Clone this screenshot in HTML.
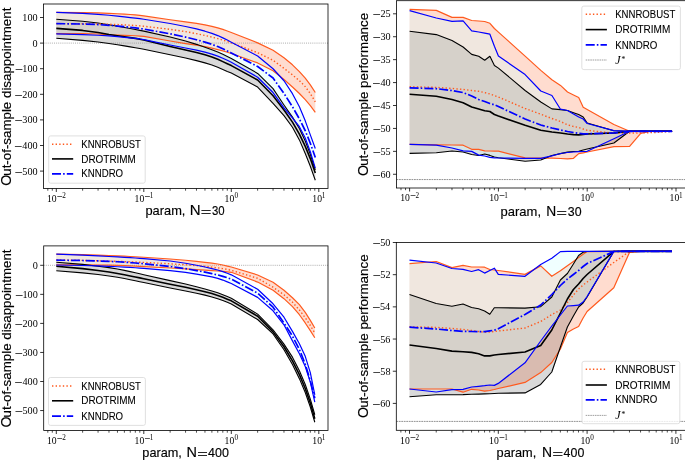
<!DOCTYPE html>
<html><head><meta charset="utf-8"><style>
html,body{margin:0;padding:0;background:#fff;width:685px;height:460px;overflow:hidden}
svg{display:block;will-change:transform} .s{font-family:"Liberation Serif",serif} .a{font-family:"Liberation Sans",sans-serif;stroke:#000;stroke-width:0.15px} .b{font-family:"Liberation Sans",sans-serif;stroke:#000;stroke-width:0.08px}
</style></head><body>
<svg width="685" height="460" viewBox="0 0 685 460">
<rect width="685" height="460" fill="#fff"/>
<g id="TL">
<clipPath id="cTL"><rect x="43.5" y="4.0" width="284.5" height="184.5"/></clipPath>
<g clip-path="url(#cTL)">
<polygon points="56.3,12.4 82.64,12.64 98.05,12.94 108.98,13.33 117.46,13.74 124.39,14.14 130.25,14.52 135.32,14.93 139.8,15.4 143.8,15.88 170.14,19.72 185.55,21.81 196.48,23.41 204.96,24.88 211.89,26.32 217.75,27.87 222.82,29.44 227.3,30.97 231.3,32.44 257.64,42.85 273.05,50.33 283.98,57.81 292.46,64.82 299.39,71.59 305.25,78.15 310.32,84.93 315.3,92.5 315.3,112.3 310.32,105.69 305.25,99.6 299.39,93.47 292.46,86.95 283.98,79.52 273.05,70.71 257.64,62.92 231.3,53.5 227.3,52.25 222.82,50.93 217.75,49.55 211.89,48.12 204.96,46.68 196.48,45.21 185.55,43.56 170.14,41.03 143.8,36.46 139.8,36.08 135.32,35.77 130.25,35.51 124.39,35.34 117.46,35.2 108.98,34.95 98.05,34.01 82.64,33.65 56.3,33.6" fill="#ff4500" fill-opacity="0.19" stroke="none"/>
<polygon points="56.3,19.31 82.64,21.31 98.05,23.04 108.98,24.71 117.46,26.19 124.39,27.46 130.25,28.55 135.32,29.5 139.8,30.36 143.8,31.15 170.14,37.03 185.55,41.09 196.48,44.35 204.96,47.18 211.89,49.72 217.75,52.11 222.82,54.37 227.3,56.49 231.3,58.49 257.64,73.41 273.05,88.59 283.98,104.97 292.46,117.1 299.39,128.47 305.25,140.98 310.32,154.24 315.3,170 315.3,180.2 310.32,166.23 305.25,153.49 299.39,139.9 292.46,127.28 283.98,115.67 273.05,103.38 257.64,87.05 231.3,73.11 227.3,71.47 222.82,69.51 217.75,67.31 211.89,65.03 204.96,62.89 196.48,60.62 185.55,58.06 170.14,54.73 143.8,49.28 139.8,48.53 135.32,47.72 130.25,46.84 124.39,45.87 117.46,44.76 108.98,43.47 98.05,42 82.64,40.33 56.3,38.22" fill="#000000" fill-opacity="0.15" stroke="none"/>
<polygon points="56.3,12.4 82.64,13.38 98.05,14.3 108.98,15.23 117.46,16.09 124.39,16.86 130.25,17.53 135.32,18.14 139.8,18.72 143.8,19.27 170.14,23.53 185.55,26.49 196.48,28.95 204.96,31.2 211.89,33.32 217.75,35.57 222.82,37.86 227.3,40.08 231.3,42.17 257.64,55.99 273.05,68.73 283.98,80.73 292.46,93.7 299.39,106.67 305.25,120.85 310.32,134.92 315.3,148.5 315.3,168.2 310.32,151.7 305.25,138.01 299.39,126.73 292.46,117.77 283.98,107.97 273.05,92.54 257.64,77.25 231.3,62.2 227.3,60.25 222.82,58.21 217.75,56.14 211.89,54.08 204.96,52.11 196.48,50.13 185.55,47.97 170.14,45.03 143.8,39.57 139.8,38.97 135.32,38.44 130.25,37.92 124.39,37.34 117.46,36.58 108.98,35.83 98.05,35.25 82.64,34.63 56.3,33.81" fill="#d2ffff" fill-opacity="0.33" stroke="none"/>
<line x1="43.5" y1="43.1" x2="328.0" y2="43.1" stroke="#8a8a8a" stroke-width="0.7" stroke-dasharray="1,1.1"/>
<polyline points="56.3,12.4 82.64,12.64 98.05,12.94 108.98,13.33 117.46,13.74 124.39,14.14 130.25,14.52 135.32,14.93 139.8,15.4 143.8,15.88 170.14,19.72 185.55,21.81 196.48,23.41 204.96,24.88 211.89,26.32 217.75,27.87 222.82,29.44 227.3,30.97 231.3,32.44 257.64,42.85 273.05,50.33 283.98,57.81 292.46,64.82 299.39,71.59 305.25,78.15 310.32,84.93 315.3,92.5" fill="none" stroke="#ff5a1e" stroke-width="1.2" stroke-linejoin="round"/>
<polyline points="56.3,33.6 82.64,33.65 98.05,34.01 108.98,34.95 117.46,35.2 124.39,35.34 130.25,35.51 135.32,35.77 139.8,36.08 143.8,36.46 170.14,41.03 185.55,43.56 196.48,45.21 204.96,46.68 211.89,48.12 217.75,49.55 222.82,50.93 227.3,52.25 231.3,53.5 257.64,62.92 273.05,70.71 283.98,79.52 292.46,86.95 299.39,93.47 305.25,99.6 310.32,105.69 315.3,112.3" fill="none" stroke="#ff5a1e" stroke-width="1.2" stroke-linejoin="round"/>
<polyline points="56.3,19.31 82.64,21.31 98.05,23.04 108.98,24.71 117.46,26.19 124.39,27.46 130.25,28.55 135.32,29.5 139.8,30.36 143.8,31.15 170.14,37.03 185.55,41.09 196.48,44.35 204.96,47.18 211.89,49.72 217.75,52.11 222.82,54.37 227.3,56.49 231.3,58.49 257.64,73.41 273.05,88.59 283.98,104.97 292.46,117.1 299.39,128.47 305.25,140.98 310.32,154.24 315.3,170" fill="none" stroke="#000" stroke-width="1.1" stroke-linejoin="round"/>
<polyline points="56.3,38.22 82.64,40.33 98.05,42 108.98,43.47 117.46,44.76 124.39,45.87 130.25,46.84 135.32,47.72 139.8,48.53 143.8,49.28 170.14,54.73 185.55,58.06 196.48,60.62 204.96,62.89 211.89,65.03 217.75,67.31 222.82,69.51 227.3,71.47 231.3,73.11 257.64,87.05 273.05,103.38 283.98,115.67 292.46,127.28 299.39,139.9 305.25,153.49 310.32,166.23 315.3,180.2" fill="none" stroke="#000" stroke-width="1.1" stroke-linejoin="round"/>
<polyline points="56.3,23.6 82.64,23.72 98.05,23.89 108.98,24.21 117.46,24.57 124.39,24.9 130.25,25.21 135.32,25.53 139.8,25.88 143.8,26.24 170.14,29.32 185.55,31.65 196.48,33.67 204.96,35.45 211.89,37.05 217.75,38.6 222.82,40.1 227.3,41.52 231.3,42.85 257.64,52.7 273.05,60.31 283.98,68.3 292.46,74.92 299.39,80.66 305.25,86.63 310.32,93.59 315.3,101.8" fill="none" stroke="#ff5a1e" stroke-width="1.4" stroke-dasharray="1.4,2.2" stroke-linejoin="round"/>
<polyline points="56.3,28.41 82.64,30.42 98.05,32.42 108.98,34.43 117.46,35.7 124.39,36.71 130.25,37.59 135.32,38.38 139.8,39.16 143.8,39.97 170.14,46.53 185.55,50.01 196.48,52.52 204.96,54.76 211.89,56.95 217.75,59.31 222.82,61.64 227.3,63.75 231.3,65.58 257.64,80.04 273.05,95.69 283.98,109.98 292.46,122.14 299.39,134.04 305.25,146.35 310.32,158.59 315.3,173" fill="none" stroke="#000" stroke-width="1.6" stroke-linejoin="round"/>
<polyline points="56.3,23.6 82.64,24.02 98.05,24.55 108.98,25.28 117.46,26.03 124.39,26.71 130.25,27.33 135.32,27.92 139.8,28.52 143.8,29.1 170.14,33.83 185.55,37.06 196.48,39.74 204.96,42.13 211.89,44.34 217.75,46.58 222.82,48.81 227.3,50.93 231.3,52.93 257.64,66.46 273.05,77.96 283.98,93.45 292.46,106.73 299.39,118.92 305.25,130.75 310.32,143.23 315.3,157.5" fill="none" stroke="#0000ff" stroke-width="1.7" stroke-dasharray="9,2.1,1.6,2.1" stroke-linejoin="round"/>
<polyline points="56.3,12.4 82.64,13.38 98.05,14.3 108.98,15.23 117.46,16.09 124.39,16.86 130.25,17.53 135.32,18.14 139.8,18.72 143.8,19.27 170.14,23.53 185.55,26.49 196.48,28.95 204.96,31.2 211.89,33.32 217.75,35.57 222.82,37.86 227.3,40.08 231.3,42.17 257.64,55.99 273.05,68.73 283.98,80.73 292.46,93.7 299.39,106.67 305.25,120.85 310.32,134.92 315.3,148.5" fill="none" stroke="#0000ff" stroke-width="1.2" stroke-linejoin="round"/>
<polyline points="56.3,33.81 82.64,34.63 98.05,35.25 108.98,35.83 117.46,36.58 124.39,37.34 130.25,37.92 135.32,38.44 139.8,38.97 143.8,39.57 170.14,45.03 185.55,47.97 196.48,50.13 204.96,52.11 211.89,54.08 217.75,56.14 222.82,58.21 227.3,60.25 231.3,62.2 257.64,77.25 273.05,92.54 283.98,107.97 292.46,117.77 299.39,126.73 305.25,138.01 310.32,151.7 315.3,168.2" fill="none" stroke="#0000ff" stroke-width="1.2" stroke-linejoin="round"/>
</g>
<rect x="43.5" y="4.0" width="284.5" height="184.5" fill="none" stroke="#000" stroke-width="0.8"/>
<line x1="40" y1="17.5" x2="43.5" y2="17.5" stroke="#000" stroke-width="0.8"/>
<text x="22.3" y="21" class="s" font-size="10.2">100</text>
<line x1="40" y1="43.1" x2="43.5" y2="43.1" stroke="#000" stroke-width="0.8"/>
<text x="32.5" y="46.6" class="s" font-size="10.2">0</text>
<line x1="40" y1="68.7" x2="43.5" y2="68.7" stroke="#000" stroke-width="0.8"/>
<text x="22.3" y="72.2" class="s" font-size="10.2">100</text>
<rect x="15.6" y="69" width="6.8" height="0.9" fill="#333"/>
<line x1="40" y1="94.3" x2="43.5" y2="94.3" stroke="#000" stroke-width="0.8"/>
<text x="22.3" y="97.8" class="s" font-size="10.2">200</text>
<rect x="15.15" y="95" width="6.8" height="0.9" fill="#333"/>
<line x1="40" y1="119.9" x2="43.5" y2="119.9" stroke="#000" stroke-width="0.8"/>
<text x="22.3" y="123.4" class="s" font-size="10.2">300</text>
<rect x="15.19" y="120" width="6.8" height="0.9" fill="#333"/>
<line x1="40" y1="145.5" x2="43.5" y2="145.5" stroke="#000" stroke-width="0.8"/>
<text x="22.3" y="149" class="s" font-size="10.2">400</text>
<rect x="14.9" y="146" width="6.8" height="0.9" fill="#333"/>
<line x1="40" y1="171.1" x2="43.5" y2="171.1" stroke="#000" stroke-width="0.8"/>
<text x="22.3" y="174.6" class="s" font-size="10.2">500</text>
<rect x="15.29" y="172" width="6.8" height="0.9" fill="#333"/>
<line x1="47.82" y1="188.5" x2="47.82" y2="190.7" stroke="#000" stroke-width="0.7"/>
<line x1="52.3" y1="188.5" x2="52.3" y2="190.7" stroke="#000" stroke-width="0.7"/>
<line x1="56.3" y1="188.5" x2="56.3" y2="192" stroke="#000" stroke-width="0.8"/>
<text transform="translate(46.88,201.9) scale(0.95,1)" class="s" font-size="10.2">10</text>
<rect x="57.29" y="196" width="4.9" height="0.8" fill="#333"/>
<text x="62.27" y="198.3" class="s" font-size="7.2">2</text>
<line x1="82.64" y1="188.5" x2="82.64" y2="190.7" stroke="#000" stroke-width="0.7"/>
<line x1="98.05" y1="188.5" x2="98.05" y2="190.7" stroke="#000" stroke-width="0.7"/>
<line x1="108.98" y1="188.5" x2="108.98" y2="190.7" stroke="#000" stroke-width="0.7"/>
<line x1="117.46" y1="188.5" x2="117.46" y2="190.7" stroke="#000" stroke-width="0.7"/>
<line x1="124.39" y1="188.5" x2="124.39" y2="190.7" stroke="#000" stroke-width="0.7"/>
<line x1="130.25" y1="188.5" x2="130.25" y2="190.7" stroke="#000" stroke-width="0.7"/>
<line x1="135.32" y1="188.5" x2="135.32" y2="190.7" stroke="#000" stroke-width="0.7"/>
<line x1="139.8" y1="188.5" x2="139.8" y2="190.7" stroke="#000" stroke-width="0.7"/>
<line x1="143.8" y1="188.5" x2="143.8" y2="192" stroke="#000" stroke-width="0.8"/>
<text transform="translate(134.55,201.9) scale(0.95,1)" class="s" font-size="10.2">10</text>
<rect x="144.97" y="196" width="4.9" height="0.8" fill="#333"/>
<text x="149.63" y="198.3" class="s" font-size="7.2">1</text>
<line x1="170.14" y1="188.5" x2="170.14" y2="190.7" stroke="#000" stroke-width="0.7"/>
<line x1="185.55" y1="188.5" x2="185.55" y2="190.7" stroke="#000" stroke-width="0.7"/>
<line x1="196.48" y1="188.5" x2="196.48" y2="190.7" stroke="#000" stroke-width="0.7"/>
<line x1="204.96" y1="188.5" x2="204.96" y2="190.7" stroke="#000" stroke-width="0.7"/>
<line x1="211.89" y1="188.5" x2="211.89" y2="190.7" stroke="#000" stroke-width="0.7"/>
<line x1="217.75" y1="188.5" x2="217.75" y2="190.7" stroke="#000" stroke-width="0.7"/>
<line x1="222.82" y1="188.5" x2="222.82" y2="190.7" stroke="#000" stroke-width="0.7"/>
<line x1="227.3" y1="188.5" x2="227.3" y2="190.7" stroke="#000" stroke-width="0.7"/>
<line x1="231.3" y1="188.5" x2="231.3" y2="192" stroke="#000" stroke-width="0.8"/>
<text transform="translate(224.59,201.9) scale(0.95,1)" class="s" font-size="10.2">10</text>
<text x="234.43" y="198.3" class="s" font-size="7.2">0</text>
<line x1="257.64" y1="188.5" x2="257.64" y2="190.7" stroke="#000" stroke-width="0.7"/>
<line x1="273.05" y1="188.5" x2="273.05" y2="190.7" stroke="#000" stroke-width="0.7"/>
<line x1="283.98" y1="188.5" x2="283.98" y2="190.7" stroke="#000" stroke-width="0.7"/>
<line x1="292.46" y1="188.5" x2="292.46" y2="190.7" stroke="#000" stroke-width="0.7"/>
<line x1="299.39" y1="188.5" x2="299.39" y2="190.7" stroke="#000" stroke-width="0.7"/>
<line x1="305.25" y1="188.5" x2="305.25" y2="190.7" stroke="#000" stroke-width="0.7"/>
<line x1="310.32" y1="188.5" x2="310.32" y2="190.7" stroke="#000" stroke-width="0.7"/>
<line x1="314.8" y1="188.5" x2="314.8" y2="190.7" stroke="#000" stroke-width="0.7"/>
<line x1="318.8" y1="188.5" x2="318.8" y2="192" stroke="#000" stroke-width="0.8"/>
<text transform="translate(312.35,201.9) scale(0.95,1)" class="s" font-size="10.2">10</text>
<text x="321.83" y="198.3" class="s" font-size="7.2">1</text>
<text transform="translate(145.46,215.3) scale(1.0360,1)" class="a" font-size="12.4">param,</text>
<text transform="translate(189.77,215.3) scale(1.0733,1)" class="a" font-size="14.0">N</text>
<rect x="201.4" y="210" width="9.3" height="1" fill="#2a2a2a"/>
<rect x="201.4" y="213" width="9.3" height="1" fill="#2a2a2a"/>
<text transform="translate(211.97,215.3) scale(0.8572,1)" class="a" font-size="13.3">30</text>
<text transform="translate(10.5,185.87) rotate(-90)" class="a" font-size="14.2">O</text>
<text transform="translate(10.5,175.77) rotate(-90) scale(1.0337,1)" class="a" font-size="12.9">ut-of-sample disappointment</text>
<rect x="48.7" y="135.9" width="96.5" height="47.3" rx="2" fill="#fff" fill-opacity="0.8" stroke="#d8d8d8" stroke-width="0.8"/>
<line x1="52" y1="144.2" x2="73.2" y2="144.2" stroke="#ff5a1e" stroke-width="1.4" stroke-dasharray="1.4,2.2"/>
<text transform="translate(81.32,147.8) scale(0.9305,1)" class="b" font-size="10.2">KNNROBUST</text>
<line x1="52" y1="158.9" x2="73.2" y2="158.9" stroke="#000" stroke-width="1.6"/>
<text transform="translate(81.29,162.5) scale(0.9740,1)" class="b" font-size="10.2">DROTRIMM</text>
<line x1="52" y1="173.8" x2="73.2" y2="173.8" stroke="#0000ff" stroke-width="1.7" stroke-dasharray="9,2.1,1.6,2.1"/>
<text transform="translate(81.31,177.4) scale(0.9468,1)" class="b" font-size="10.2">KNNDRO</text>
</g>
<g id="BL">
<clipPath id="cBL"><rect x="43.7" y="245.9" width="284.3" height="184.6"/></clipPath>
<g clip-path="url(#cBL)">
<polygon points="56.3,254.2 82.64,254.72 98.05,255.17 108.98,255.54 117.46,255.88 124.39,256.2 130.25,256.49 135.32,256.76 139.8,257.02 143.8,257.26 170.14,259.02 185.55,260.27 196.48,261.33 204.96,262.29 211.89,263.17 217.75,264.03 222.82,265.03 227.3,266.05 231.3,267.01 257.64,274.96 273.05,282.23 283.98,290.22 292.46,297.73 299.39,304.69 305.25,312.4 310.32,320.43 314.8,328 314.8,337.8 310.32,330.66 305.25,322.97 299.39,314.73 292.46,306.68 283.98,298.65 273.05,290.31 257.64,282.09 231.3,272.29 227.3,271.78 222.82,271.37 217.75,271 211.89,270.57 204.96,270.09 196.48,269.54 185.55,268.88 170.14,268.02 143.8,266.63 139.8,266.41 135.32,266.17 130.25,265.91 124.39,265.65 117.46,265.38 108.98,265.16 98.05,265.03 82.64,264.9 56.3,264.8" fill="#ff4500" fill-opacity="0.19" stroke="none"/>
<polygon points="56.3,262.31 82.64,264.41 98.05,266.2 108.98,267.66 117.46,269.07 124.39,270.4 130.25,271.63 135.32,272.74 139.8,273.76 143.8,274.68 170.14,280.64 185.55,284.08 196.48,286.71 204.96,288.95 211.89,290.94 217.75,292.82 222.82,294.75 227.3,296.59 231.3,298.22 257.64,314.12 273.05,329.78 283.98,344.11 292.46,357.17 299.39,370.68 305.25,384.47 310.32,399.08 314.8,414.74 314.8,422.22 310.32,406.97 305.25,392.54 299.39,378.64 292.46,364.53 283.98,349.7 273.05,333.97 257.64,319.52 231.3,303.92 227.3,302.3 222.82,300.51 217.75,298.66 211.89,296.93 204.96,295.14 196.48,293.19 185.55,290.93 170.14,287.99 143.8,282.57 139.8,281.71 135.32,280.76 130.25,279.7 124.39,278.54 117.46,277.28 108.98,275.93 98.05,274.55 82.64,272.83 56.3,270.81" fill="#000000" fill-opacity="0.15" stroke="none"/>
<polygon points="56.3,254.21 82.64,255.22 98.05,255.95 108.98,256.51 117.46,256.95 124.39,257.33 130.25,257.67 135.32,257.98 139.8,258.28 143.8,258.56 170.14,261.01 185.55,263.26 196.48,265.25 204.96,267 211.89,268.56 217.75,270.02 222.82,271.6 227.3,273.23 231.3,274.83 257.64,289.31 273.05,303.79 283.98,317.24 292.46,331.4 299.39,343.78 305.25,356.35 310.32,372.61 314.8,394.8 314.8,402.08 310.32,382.07 305.25,366.5 299.39,353.74 292.46,340.88 283.98,324.78 273.05,310.8 257.64,297.39 231.3,283.55 227.3,281.87 222.82,280.06 217.75,278.32 211.89,276.92 204.96,275.54 196.48,274.06 185.55,272.46 170.14,270.66 143.8,268.37 139.8,268.08 135.32,267.77 130.25,267.44 124.39,267.09 117.46,266.73 108.98,266.35 98.05,265.96 82.64,265.48 56.3,265" fill="#d2ffff" fill-opacity="0.33" stroke="none"/>
<line x1="43.7" y1="265.3" x2="328.0" y2="265.3" stroke="#8a8a8a" stroke-width="0.7" stroke-dasharray="1,1.1"/>
<polyline points="56.3,254.2 82.64,254.72 98.05,255.17 108.98,255.54 117.46,255.88 124.39,256.2 130.25,256.49 135.32,256.76 139.8,257.02 143.8,257.26 170.14,259.02 185.55,260.27 196.48,261.33 204.96,262.29 211.89,263.17 217.75,264.03 222.82,265.03 227.3,266.05 231.3,267.01 257.64,274.96 273.05,282.23 283.98,290.22 292.46,297.73 299.39,304.69 305.25,312.4 310.32,320.43 314.8,328" fill="none" stroke="#ff5a1e" stroke-width="1.2" stroke-linejoin="round"/>
<polyline points="56.3,264.8 82.64,264.9 98.05,265.03 108.98,265.16 117.46,265.38 124.39,265.65 130.25,265.91 135.32,266.17 139.8,266.41 143.8,266.63 170.14,268.02 185.55,268.88 196.48,269.54 204.96,270.09 211.89,270.57 217.75,271 222.82,271.37 227.3,271.78 231.3,272.29 257.64,282.09 273.05,290.31 283.98,298.65 292.46,306.68 299.39,314.73 305.25,322.97 310.32,330.66 314.8,337.8" fill="none" stroke="#ff5a1e" stroke-width="1.2" stroke-linejoin="round"/>
<polyline points="56.3,262.31 82.64,264.41 98.05,266.2 108.98,267.66 117.46,269.07 124.39,270.4 130.25,271.63 135.32,272.74 139.8,273.76 143.8,274.68 170.14,280.64 185.55,284.08 196.48,286.71 204.96,288.95 211.89,290.94 217.75,292.82 222.82,294.75 227.3,296.59 231.3,298.22 257.64,314.12 273.05,329.78 283.98,344.11 292.46,357.17 299.39,370.68 305.25,384.47 310.32,399.08 314.8,414.74" fill="none" stroke="#000" stroke-width="1.1" stroke-linejoin="round"/>
<polyline points="56.3,270.81 82.64,272.83 98.05,274.55 108.98,275.93 117.46,277.28 124.39,278.54 130.25,279.7 135.32,280.76 139.8,281.71 143.8,282.57 170.14,287.99 185.55,290.93 196.48,293.19 204.96,295.14 211.89,296.93 217.75,298.66 222.82,300.51 227.3,302.3 231.3,303.92 257.64,319.52 273.05,333.97 283.98,349.7 292.46,364.53 299.39,378.64 305.25,392.54 310.32,406.97 314.8,422.22" fill="none" stroke="#000" stroke-width="1.1" stroke-linejoin="round"/>
<polyline points="56.3,259.9 82.64,260.41 98.05,260.81 108.98,261.12 117.46,261.39 124.39,261.63 130.25,261.84 135.32,262.05 139.8,262.23 143.8,262.41 170.14,263.77 185.55,264.78 196.48,265.65 204.96,266.43 211.89,267.15 217.75,267.84 222.82,268.63 227.3,269.45 231.3,270.28 257.64,278.28 273.05,287.21 283.98,294.8 292.46,302.15 299.39,309.98 305.25,317.75 310.32,325.47 314.8,333" fill="none" stroke="#ff5a1e" stroke-width="1.4" stroke-dasharray="1.4,2.2" stroke-linejoin="round"/>
<polyline points="56.3,266.22 82.64,268.66 98.05,270.56 108.98,272.08 117.46,273.47 124.39,274.75 130.25,275.91 135.32,276.95 139.8,277.9 143.8,278.75 170.14,284.25 185.55,287.32 196.48,289.68 204.96,291.73 211.89,293.59 217.75,295.39 222.82,297.32 227.3,299.18 231.3,300.82 257.64,316.24 273.05,331.86 283.98,346.77 292.46,360.87 299.39,374.66 305.25,388.49 310.32,403.08 314.8,418.74" fill="none" stroke="#000" stroke-width="1.6" stroke-linejoin="round"/>
<polyline points="56.3,260.1 82.64,260.5 98.05,260.97 108.98,261.35 117.46,261.77 124.39,262.19 130.25,262.61 135.32,263 139.8,263.38 143.8,263.73 170.14,266.46 185.55,268.66 196.48,270.54 204.96,272.17 211.89,273.62 217.75,274.95 222.82,276.33 227.3,277.75 231.3,279.18 257.64,293.1 273.05,307.21 283.98,322.94 292.46,336.05 299.39,349.44 305.25,364.19 310.32,380.86 314.8,398.22" fill="none" stroke="#0000ff" stroke-width="1.7" stroke-dasharray="9,2.1,1.6,2.1" stroke-linejoin="round"/>
<polyline points="56.3,254.21 82.64,255.22 98.05,255.95 108.98,256.51 117.46,256.95 124.39,257.33 130.25,257.67 135.32,257.98 139.8,258.28 143.8,258.56 170.14,261.01 185.55,263.26 196.48,265.25 204.96,267 211.89,268.56 217.75,270.02 222.82,271.6 227.3,273.23 231.3,274.83 257.64,289.31 273.05,303.79 283.98,317.24 292.46,331.4 299.39,343.78 305.25,356.35 310.32,372.61 314.8,394.8" fill="none" stroke="#0000ff" stroke-width="1.2" stroke-linejoin="round"/>
<polyline points="56.3,265 82.64,265.48 98.05,265.96 108.98,266.35 117.46,266.73 124.39,267.09 130.25,267.44 135.32,267.77 139.8,268.08 143.8,268.37 170.14,270.66 185.55,272.46 196.48,274.06 204.96,275.54 211.89,276.92 217.75,278.32 222.82,280.06 227.3,281.87 231.3,283.55 257.64,297.39 273.05,310.8 283.98,324.78 292.46,340.88 299.39,353.74 305.25,366.5 310.32,382.07 314.8,402.08" fill="none" stroke="#0000ff" stroke-width="1.2" stroke-linejoin="round"/>
</g>
<rect x="43.7" y="245.9" width="284.3" height="184.6" fill="none" stroke="#000" stroke-width="0.8"/>
<line x1="40.2" y1="265.3" x2="43.7" y2="265.3" stroke="#000" stroke-width="0.8"/>
<text x="32.7" y="268.8" class="s" font-size="10.2">0</text>
<line x1="40.2" y1="294.35" x2="43.7" y2="294.35" stroke="#000" stroke-width="0.8"/>
<text x="22.5" y="297.85" class="s" font-size="10.2">100</text>
<rect x="15.8" y="295" width="6.8" height="0.9" fill="#333"/>
<line x1="40.2" y1="323.4" x2="43.7" y2="323.4" stroke="#000" stroke-width="0.8"/>
<text x="22.5" y="326.9" class="s" font-size="10.2">200</text>
<rect x="15.35" y="324" width="6.8" height="0.9" fill="#333"/>
<line x1="40.2" y1="352.45" x2="43.7" y2="352.45" stroke="#000" stroke-width="0.8"/>
<text x="22.5" y="355.95" class="s" font-size="10.2">300</text>
<rect x="15.39" y="353" width="6.8" height="0.9" fill="#333"/>
<line x1="40.2" y1="381.5" x2="43.7" y2="381.5" stroke="#000" stroke-width="0.8"/>
<text x="22.5" y="385" class="s" font-size="10.2">400</text>
<rect x="15.1" y="382" width="6.8" height="0.9" fill="#333"/>
<line x1="40.2" y1="410.55" x2="43.7" y2="410.55" stroke="#000" stroke-width="0.8"/>
<text x="22.5" y="414.05" class="s" font-size="10.2">500</text>
<rect x="15.49" y="411" width="6.8" height="0.9" fill="#333"/>
<line x1="47.82" y1="430.5" x2="47.82" y2="432.7" stroke="#000" stroke-width="0.7"/>
<line x1="52.3" y1="430.5" x2="52.3" y2="432.7" stroke="#000" stroke-width="0.7"/>
<line x1="56.3" y1="430.5" x2="56.3" y2="434" stroke="#000" stroke-width="0.8"/>
<text transform="translate(46.88,443.9) scale(0.95,1)" class="s" font-size="10.2">10</text>
<rect x="57.29" y="438" width="4.9" height="0.8" fill="#333"/>
<text x="62.27" y="440.3" class="s" font-size="7.2">2</text>
<line x1="82.64" y1="430.5" x2="82.64" y2="432.7" stroke="#000" stroke-width="0.7"/>
<line x1="98.05" y1="430.5" x2="98.05" y2="432.7" stroke="#000" stroke-width="0.7"/>
<line x1="108.98" y1="430.5" x2="108.98" y2="432.7" stroke="#000" stroke-width="0.7"/>
<line x1="117.46" y1="430.5" x2="117.46" y2="432.7" stroke="#000" stroke-width="0.7"/>
<line x1="124.39" y1="430.5" x2="124.39" y2="432.7" stroke="#000" stroke-width="0.7"/>
<line x1="130.25" y1="430.5" x2="130.25" y2="432.7" stroke="#000" stroke-width="0.7"/>
<line x1="135.32" y1="430.5" x2="135.32" y2="432.7" stroke="#000" stroke-width="0.7"/>
<line x1="139.8" y1="430.5" x2="139.8" y2="432.7" stroke="#000" stroke-width="0.7"/>
<line x1="143.8" y1="430.5" x2="143.8" y2="434" stroke="#000" stroke-width="0.8"/>
<text transform="translate(134.55,443.9) scale(0.95,1)" class="s" font-size="10.2">10</text>
<rect x="144.97" y="438" width="4.9" height="0.8" fill="#333"/>
<text x="149.63" y="440.3" class="s" font-size="7.2">1</text>
<line x1="170.14" y1="430.5" x2="170.14" y2="432.7" stroke="#000" stroke-width="0.7"/>
<line x1="185.55" y1="430.5" x2="185.55" y2="432.7" stroke="#000" stroke-width="0.7"/>
<line x1="196.48" y1="430.5" x2="196.48" y2="432.7" stroke="#000" stroke-width="0.7"/>
<line x1="204.96" y1="430.5" x2="204.96" y2="432.7" stroke="#000" stroke-width="0.7"/>
<line x1="211.89" y1="430.5" x2="211.89" y2="432.7" stroke="#000" stroke-width="0.7"/>
<line x1="217.75" y1="430.5" x2="217.75" y2="432.7" stroke="#000" stroke-width="0.7"/>
<line x1="222.82" y1="430.5" x2="222.82" y2="432.7" stroke="#000" stroke-width="0.7"/>
<line x1="227.3" y1="430.5" x2="227.3" y2="432.7" stroke="#000" stroke-width="0.7"/>
<line x1="231.3" y1="430.5" x2="231.3" y2="434" stroke="#000" stroke-width="0.8"/>
<text transform="translate(224.59,443.9) scale(0.95,1)" class="s" font-size="10.2">10</text>
<text x="234.43" y="440.3" class="s" font-size="7.2">0</text>
<line x1="257.64" y1="430.5" x2="257.64" y2="432.7" stroke="#000" stroke-width="0.7"/>
<line x1="273.05" y1="430.5" x2="273.05" y2="432.7" stroke="#000" stroke-width="0.7"/>
<line x1="283.98" y1="430.5" x2="283.98" y2="432.7" stroke="#000" stroke-width="0.7"/>
<line x1="292.46" y1="430.5" x2="292.46" y2="432.7" stroke="#000" stroke-width="0.7"/>
<line x1="299.39" y1="430.5" x2="299.39" y2="432.7" stroke="#000" stroke-width="0.7"/>
<line x1="305.25" y1="430.5" x2="305.25" y2="432.7" stroke="#000" stroke-width="0.7"/>
<line x1="310.32" y1="430.5" x2="310.32" y2="432.7" stroke="#000" stroke-width="0.7"/>
<line x1="314.8" y1="430.5" x2="314.8" y2="432.7" stroke="#000" stroke-width="0.7"/>
<line x1="318.8" y1="430.5" x2="318.8" y2="434" stroke="#000" stroke-width="0.8"/>
<text transform="translate(312.35,443.9) scale(0.95,1)" class="s" font-size="10.2">10</text>
<text x="321.83" y="440.3" class="s" font-size="7.2">1</text>
<text transform="translate(142.37,457.2) scale(1.0251,1)" class="a" font-size="12.4">param,</text>
<text transform="translate(186.61,457.2) scale(1.0350,1)" class="a" font-size="14.0">N</text>
<rect x="198" y="452" width="9" height="1" fill="#2a2a2a"/>
<rect x="198" y="455" width="9" height="1" fill="#2a2a2a"/>
<text transform="translate(208.11,457.2) scale(0.9410,1)" class="a" font-size="13.3">400</text>
<text transform="translate(10.5,427.57) rotate(-90)" class="a" font-size="14.2">O</text>
<text transform="translate(10.5,417.47) rotate(-90) scale(1.0325,1)" class="a" font-size="12.9">ut-of-sample disappointment</text>
<rect x="48.5" y="377.5" width="96.9" height="47.9" rx="2" fill="#fff" fill-opacity="0.8" stroke="#d8d8d8" stroke-width="0.8"/>
<line x1="52" y1="386" x2="73.2" y2="386" stroke="#ff5a1e" stroke-width="1.4" stroke-dasharray="1.4,2.2"/>
<text transform="translate(81.32,389.6) scale(0.9305,1)" class="b" font-size="10.2">KNNROBUST</text>
<line x1="52" y1="400.8" x2="73.2" y2="400.8" stroke="#000" stroke-width="1.6"/>
<text transform="translate(81.29,404.4) scale(0.9740,1)" class="b" font-size="10.2">DROTRIMM</text>
<line x1="52" y1="416.1" x2="73.2" y2="416.1" stroke="#0000ff" stroke-width="1.7" stroke-dasharray="9,2.1,1.6,2.1"/>
<text transform="translate(81.31,419.7) scale(0.9468,1)" class="b" font-size="10.2">KNNDRO</text>
</g>
<g id="TR">
<clipPath id="cTR"><rect x="396.5" y="0.7" width="293.5" height="187.3"/></clipPath>
<g clip-path="url(#cTR)">
<polygon points="409.6,9.4 436.3,10.4 452,17.4 463.1,17.4 471.7,20.5 478.7,21 484.7,21.5 489.9,23.3 494.4,28.5 498.4,32.1 525.1,56.1 540.8,70.4 551.9,79.8 560.5,85.4 567.5,92 573.5,95 578.7,97.5 583.2,107.2 587.2,109.5 613.9,124.5 629.6,131.3 640.7,131.3 649.3,131.3 656.3,131.3 662.3,131.3 667.5,131.3 672.1,131.3 672.1,131.3 667.5,131.3 662.3,131.3 656.3,131.3 649.3,131.5 640.7,133.3 629.6,146.3 613.9,146.6 587.2,152 583.2,152.8 578.7,153.6 573.5,158.3 567.5,158.9 560.5,158.5 551.9,158.1 540.8,158.1 525.1,157.8 498.4,151.1 494.4,151.1 489.9,151 484.7,150.8 478.7,149.3 471.7,149.3 463.1,145.2 452,145 436.3,144.8 409.6,144.3" fill="#ff4500" fill-opacity="0.19" stroke="none"/>
<polygon points="409.6,31.3 436.3,34.6 452,40.5 463.1,47 471.7,54.4 478.7,56.3 484.7,60.3 489.9,56.3 494.4,65.5 498.4,68.1 525.1,90.5 540.8,102 551.9,108.9 560.5,109.6 567.5,110.5 573.5,112.7 578.7,114.6 583.2,117 587.2,123 613.9,130.7 629.6,131.3 640.7,131.3 649.3,131.3 656.3,131.3 662.3,131.3 667.5,131.3 672.1,131.3 672.1,131.3 667.5,131.3 662.3,131.3 656.3,131.3 649.3,131.3 640.7,131.3 629.6,131.3 613.9,143 587.2,149 583.2,150 578.7,151.3 573.5,151.5 567.5,152.1 560.5,153.6 551.9,155.5 540.8,160 525.1,161.3 498.4,157.7 494.4,157 489.9,155.4 484.7,154 478.7,155.5 471.7,154.5 463.1,152 452,151 436.3,152.8 409.6,153.4" fill="#000000" fill-opacity="0.15" stroke="none"/>
<polygon points="409.6,10.7 436.3,18 452,21.3 463.1,20.9 471.7,30.8 478.7,32 484.7,33.2 489.9,34.2 494.4,46.3 498.4,56 525.1,74.6 540.8,91 551.9,95.5 560.5,109.2 567.5,110.5 573.5,114 578.7,117 583.2,119 587.2,123.5 613.9,130.6 629.6,131.3 640.7,131.3 649.3,131.3 656.3,131.3 662.3,131.3 667.5,131.3 672.1,131.3 672.1,131.3 667.5,131.3 662.3,131.3 656.3,131.3 649.3,131.3 640.7,131.3 629.6,131.3 613.9,138.7 587.2,151.3 583.2,151.5 578.7,151.7 573.5,152 567.5,152.5 560.5,153.5 551.9,155.8 540.8,158.4 525.1,158.4 498.4,158 494.4,157.8 489.9,157.3 484.7,156 478.7,155.1 471.7,151.4 463.1,150.8 452,148 436.3,145.2 409.6,144.3" fill="#d2ffff" fill-opacity="0.33" stroke="none"/>
<line x1="396.5" y1="179.55" x2="690" y2="179.55" stroke="#777" stroke-width="0.8" stroke-dasharray="1.8,0.7"/>
<polyline points="409.6,9.4 436.3,10.4 452,17.4 463.1,17.4 471.7,20.5 478.7,21 484.7,21.5 489.9,23.3 494.4,28.5 498.4,32.1 525.1,56.1 540.8,70.4 551.9,79.8 560.5,85.4 567.5,92 573.5,95 578.7,97.5 583.2,107.2 587.2,109.5 613.9,124.5 629.6,131.3 640.7,131.3 649.3,131.3 656.3,131.3 662.3,131.3 667.5,131.3 672.1,131.3" fill="none" stroke="#ff5a1e" stroke-width="1.2" stroke-linejoin="round"/>
<polyline points="409.6,144.3 436.3,144.8 452,145 463.1,145.2 471.7,149.3 478.7,149.3 484.7,150.8 489.9,151 494.4,151.1 498.4,151.1 525.1,157.8 540.8,158.1 551.9,158.1 560.5,158.5 567.5,158.9 573.5,158.3 578.7,153.6 583.2,152.8 587.2,152 613.9,146.6 629.6,146.3 640.7,133.3 649.3,131.5 656.3,131.3 662.3,131.3 667.5,131.3 672.1,131.3" fill="none" stroke="#ff5a1e" stroke-width="1.2" stroke-linejoin="round"/>
<polyline points="409.6,31.3 436.3,34.6 452,40.5 463.1,47 471.7,54.4 478.7,56.3 484.7,60.3 489.9,56.3 494.4,65.5 498.4,68.1 525.1,90.5 540.8,102 551.9,108.9 560.5,109.6 567.5,110.5 573.5,112.7 578.7,114.6 583.2,117 587.2,123 613.9,130.7 629.6,131.3 640.7,131.3 649.3,131.3 656.3,131.3 662.3,131.3 667.5,131.3 672.1,131.3" fill="none" stroke="#000" stroke-width="1.1" stroke-linejoin="round"/>
<polyline points="409.6,153.4 436.3,152.8 452,151 463.1,152 471.7,154.5 478.7,155.5 484.7,154 489.9,155.4 494.4,157 498.4,157.7 525.1,161.3 540.8,160 551.9,155.5 560.5,153.6 567.5,152.1 573.5,151.5 578.7,151.3 583.2,150 587.2,149 613.9,143 629.6,131.3 640.7,131.3 649.3,131.3 656.3,131.3 662.3,131.3 667.5,131.3 672.1,131.3" fill="none" stroke="#000" stroke-width="1.1" stroke-linejoin="round"/>
<polyline points="409.6,86.7 436.3,87.4 452,88.5 463.1,89.4 471.7,90.5 478.7,91.3 484.7,92.6 489.9,94 494.4,95.5 498.4,97 525.1,108.5 540.8,114.3 551.9,118.5 560.5,121.5 567.5,124.8 573.5,126.5 578.7,127.5 583.2,129 587.2,130.3 613.9,133.2 629.6,133 640.7,132.9 649.3,132.7 656.3,132.4 662.3,132 667.5,131.6 672.1,131.3" fill="none" stroke="#ff5a1e" stroke-width="1.4" stroke-dasharray="1.4,2.2" stroke-linejoin="round"/>
<polyline points="409.6,94.3 436.3,96.3 452,99.5 463.1,102.7 471.7,107 478.7,109 484.7,110.8 489.9,111.5 494.4,114.5 498.4,116 525.1,125.3 540.8,130.3 551.9,132 560.5,133 567.5,134 573.5,134.6 578.7,134.9 583.2,134.5 587.2,134 613.9,133 629.6,131.3 640.7,131.3 649.3,131.3 656.3,131.3 662.3,131.3 667.5,131.3 672.1,131.3" fill="none" stroke="#000" stroke-width="1.6" stroke-linejoin="round"/>
<polyline points="409.6,87.8 436.3,88.7 452,90.5 463.1,92.6 471.7,96 478.7,99.5 484.7,101.5 489.9,103.5 494.4,104.8 498.4,106.5 525.1,119 540.8,125 551.9,128 560.5,130 567.5,131.5 573.5,132.5 578.7,133.3 583.2,133.8 587.2,133.8 613.9,133 629.6,131.3 640.7,131.3 649.3,131.3 656.3,131.3 662.3,131.3 667.5,131.3 672.1,131.3" fill="none" stroke="#0000ff" stroke-width="1.7" stroke-dasharray="9,2.1,1.6,2.1" stroke-linejoin="round"/>
<polyline points="409.6,10.7 436.3,18 452,21.3 463.1,20.9 471.7,30.8 478.7,32 484.7,33.2 489.9,34.2 494.4,46.3 498.4,56 525.1,74.6 540.8,91 551.9,95.5 560.5,109.2 567.5,110.5 573.5,114 578.7,117 583.2,119 587.2,123.5 613.9,130.6 629.6,131.3 640.7,131.3 649.3,131.3 656.3,131.3 662.3,131.3 667.5,131.3 672.1,131.3" fill="none" stroke="#0000ff" stroke-width="1.2" stroke-linejoin="round"/>
<polyline points="409.6,144.3 436.3,145.2 452,148 463.1,150.8 471.7,151.4 478.7,155.1 484.7,156 489.9,157.3 494.4,157.8 498.4,158 525.1,158.4 540.8,158.4 551.9,155.8 560.5,153.5 567.5,152.5 573.5,152 578.7,151.7 583.2,151.5 587.2,151.3 613.9,138.7 629.6,131.3 640.7,131.3 649.3,131.3 656.3,131.3 662.3,131.3 667.5,131.3 672.1,131.3" fill="none" stroke="#0000ff" stroke-width="1.2" stroke-linejoin="round"/>
</g>
<rect x="396.5" y="0.7" width="293.5" height="187.3" fill="none" stroke="#000" stroke-width="0.8"/>
<line x1="393" y1="13.8" x2="396.5" y2="13.8" stroke="#000" stroke-width="0.8"/>
<text x="380.41" y="17.3" class="s" font-size="10.2">25</text>
<rect x="373.26" y="14" width="6.8" height="0.9" fill="#333"/>
<line x1="393" y1="36.73" x2="396.5" y2="36.73" stroke="#000" stroke-width="0.8"/>
<text x="380.4" y="40.23" class="s" font-size="10.2">30</text>
<rect x="373.29" y="37" width="6.8" height="0.9" fill="#333"/>
<line x1="393" y1="59.65" x2="396.5" y2="59.65" stroke="#000" stroke-width="0.8"/>
<text x="380.41" y="63.15" class="s" font-size="10.2">35</text>
<rect x="373.3" y="60" width="6.8" height="0.9" fill="#333"/>
<line x1="393" y1="82.58" x2="396.5" y2="82.58" stroke="#000" stroke-width="0.8"/>
<text x="380.4" y="86.08" class="s" font-size="10.2">40</text>
<rect x="373" y="83" width="6.8" height="0.9" fill="#333"/>
<line x1="393" y1="105.5" x2="396.5" y2="105.5" stroke="#000" stroke-width="0.8"/>
<text x="380.41" y="109" class="s" font-size="10.2">45</text>
<rect x="373.01" y="106" width="6.8" height="0.9" fill="#333"/>
<line x1="393" y1="128.43" x2="396.5" y2="128.43" stroke="#000" stroke-width="0.8"/>
<text x="380.4" y="131.93" class="s" font-size="10.2">50</text>
<rect x="373.39" y="129" width="6.8" height="0.9" fill="#333"/>
<line x1="393" y1="151.35" x2="396.5" y2="151.35" stroke="#000" stroke-width="0.8"/>
<text x="380.41" y="154.85" class="s" font-size="10.2">55</text>
<rect x="373.4" y="152" width="6.8" height="0.9" fill="#333"/>
<line x1="393" y1="174.28" x2="396.5" y2="174.28" stroke="#000" stroke-width="0.8"/>
<text x="380.4" y="177.78" class="s" font-size="10.2">60</text>
<rect x="373.21" y="175" width="6.8" height="0.9" fill="#333"/>
<line x1="400.99" y1="188.0" x2="400.99" y2="190.2" stroke="#000" stroke-width="0.7"/>
<line x1="405.54" y1="188.0" x2="405.54" y2="190.2" stroke="#000" stroke-width="0.7"/>
<line x1="409.6" y1="188.0" x2="409.6" y2="191.5" stroke="#000" stroke-width="0.8"/>
<text transform="translate(400.18,201.4) scale(0.95,1)" class="s" font-size="10.2">10</text>
<rect x="410.59" y="195" width="4.9" height="0.8" fill="#333"/>
<text x="415.57" y="197.8" class="s" font-size="7.2">2</text>
<line x1="436.33" y1="188.0" x2="436.33" y2="190.2" stroke="#000" stroke-width="0.7"/>
<line x1="451.97" y1="188.0" x2="451.97" y2="190.2" stroke="#000" stroke-width="0.7"/>
<line x1="463.06" y1="188.0" x2="463.06" y2="190.2" stroke="#000" stroke-width="0.7"/>
<line x1="471.67" y1="188.0" x2="471.67" y2="190.2" stroke="#000" stroke-width="0.7"/>
<line x1="478.7" y1="188.0" x2="478.7" y2="190.2" stroke="#000" stroke-width="0.7"/>
<line x1="484.64" y1="188.0" x2="484.64" y2="190.2" stroke="#000" stroke-width="0.7"/>
<line x1="489.79" y1="188.0" x2="489.79" y2="190.2" stroke="#000" stroke-width="0.7"/>
<line x1="494.34" y1="188.0" x2="494.34" y2="190.2" stroke="#000" stroke-width="0.7"/>
<line x1="498.4" y1="188.0" x2="498.4" y2="191.5" stroke="#000" stroke-width="0.8"/>
<text transform="translate(489.15,201.4) scale(0.95,1)" class="s" font-size="10.2">10</text>
<rect x="499.57" y="195" width="4.9" height="0.8" fill="#333"/>
<text x="504.23" y="197.8" class="s" font-size="7.2">1</text>
<line x1="525.13" y1="188.0" x2="525.13" y2="190.2" stroke="#000" stroke-width="0.7"/>
<line x1="540.77" y1="188.0" x2="540.77" y2="190.2" stroke="#000" stroke-width="0.7"/>
<line x1="551.86" y1="188.0" x2="551.86" y2="190.2" stroke="#000" stroke-width="0.7"/>
<line x1="560.47" y1="188.0" x2="560.47" y2="190.2" stroke="#000" stroke-width="0.7"/>
<line x1="567.5" y1="188.0" x2="567.5" y2="190.2" stroke="#000" stroke-width="0.7"/>
<line x1="573.44" y1="188.0" x2="573.44" y2="190.2" stroke="#000" stroke-width="0.7"/>
<line x1="578.59" y1="188.0" x2="578.59" y2="190.2" stroke="#000" stroke-width="0.7"/>
<line x1="583.14" y1="188.0" x2="583.14" y2="190.2" stroke="#000" stroke-width="0.7"/>
<line x1="587.2" y1="188.0" x2="587.2" y2="191.5" stroke="#000" stroke-width="0.8"/>
<text transform="translate(580.49,201.4) scale(0.95,1)" class="s" font-size="10.2">10</text>
<text x="590.33" y="197.8" class="s" font-size="7.2">0</text>
<line x1="613.93" y1="188.0" x2="613.93" y2="190.2" stroke="#000" stroke-width="0.7"/>
<line x1="629.57" y1="188.0" x2="629.57" y2="190.2" stroke="#000" stroke-width="0.7"/>
<line x1="640.66" y1="188.0" x2="640.66" y2="190.2" stroke="#000" stroke-width="0.7"/>
<line x1="649.27" y1="188.0" x2="649.27" y2="190.2" stroke="#000" stroke-width="0.7"/>
<line x1="656.3" y1="188.0" x2="656.3" y2="190.2" stroke="#000" stroke-width="0.7"/>
<line x1="662.24" y1="188.0" x2="662.24" y2="190.2" stroke="#000" stroke-width="0.7"/>
<line x1="667.39" y1="188.0" x2="667.39" y2="190.2" stroke="#000" stroke-width="0.7"/>
<line x1="671.94" y1="188.0" x2="671.94" y2="190.2" stroke="#000" stroke-width="0.7"/>
<line x1="676" y1="188.0" x2="676" y2="191.5" stroke="#000" stroke-width="0.8"/>
<text transform="translate(669.55,201.4) scale(0.95,1)" class="s" font-size="10.2">10</text>
<text x="679.03" y="197.8" class="s" font-size="7.2">1</text>
<text transform="translate(500.55,216) scale(1.0496,1)" class="a" font-size="12.4">param,</text>
<text transform="translate(546.17,216) scale(0.9839,1)" class="a" font-size="14.0">N</text>
<rect x="557.1" y="211" width="9.2" height="1" fill="#2a2a2a"/>
<rect x="557.1" y="214" width="9.2" height="1" fill="#2a2a2a"/>
<text transform="translate(567.83,216) scale(0.9299,1)" class="a" font-size="13.3">30</text>
<text transform="translate(368.1,175.97) rotate(-90)" class="a" font-size="14.2">O</text>
<text transform="translate(368.1,165.87) rotate(-90) scale(1.0370,1)" class="a" font-size="12.9">ut-of-sample performance</text>
<rect x="581.8" y="6.1" width="98.6" height="63.5" rx="2" fill="#fff" fill-opacity="0.8" stroke="#d8d8d8" stroke-width="0.8"/>
<line x1="585.7" y1="14.3" x2="606.9" y2="14.3" stroke="#ff5a1e" stroke-width="1.4" stroke-dasharray="1.4,2.2"/>
<text transform="translate(615.21,17.9) scale(0.9398,1)" class="b" font-size="10.2">KNNROBUST</text>
<line x1="585.7" y1="29.6" x2="606.9" y2="29.6" stroke="#000" stroke-width="1.6"/>
<text transform="translate(615.18,33.2) scale(0.9837,1)" class="b" font-size="10.2">DROTRIMM</text>
<line x1="585.7" y1="44.9" x2="606.9" y2="44.9" stroke="#0000ff" stroke-width="1.7" stroke-dasharray="9,2.1,1.6,2.1"/>
<text transform="translate(615.2,48.5) scale(0.9563,1)" class="b" font-size="10.2">KNNDRO</text>
<line x1="585.7" y1="60.0" x2="606.9" y2="60.0" stroke="#888" stroke-width="0.8" stroke-dasharray="1.6,0.7"/>
<text x="615.3" y="63.7" class="s" font-style="italic" font-size="12">J<tspan font-size="8" dx="0.3" dy="-2.2">*</tspan></text>
</g>
<g id="BR">
<clipPath id="cBR"><rect x="396.3" y="242.5" width="293.7" height="187.8"/></clipPath>
<g clip-path="url(#cBR)">
<polygon points="409.5,263.7 436.2,261.5 451.9,267.6 463,265.4 471.6,267 478.6,267 484.6,267.2 489.8,269.5 494.3,270 498.3,270.5 525,274.4 540.7,265.9 551.8,276.3 560.4,270.8 567.4,265.7 573.4,261.4 578.6,257.6 583.1,254.3 587.1,251.6 613.8,251.4 629.5,251.4 640.6,251.4 649.2,251.4 656.2,251.4 662.2,251.4 667.4,251.4 672,251.4 672,251.4 667.4,251.4 662.2,251.4 656.2,251.4 649.2,251.4 640.6,251.4 629.5,252.4 613.8,287.8 587.1,311.5 583.1,318 578.6,326.5 573.4,329 567.4,332.6 560.4,349 551.8,362.5 540.7,372.6 525,382.4 498.3,388.5 494.3,389.5 489.8,390.5 484.6,391.2 478.6,390 471.6,389.3 463,392.2 451.9,389 436.2,389 409.5,389" fill="#ff4500" fill-opacity="0.19" stroke="none"/>
<polygon points="409.5,294.4 436.2,303.5 451.9,306.2 463,304 471.6,307.5 478.6,308.8 484.6,311 489.8,314.3 494.3,307.7 498.3,307.7 525,308.1 540.7,306.7 551.8,297 560.4,280 567.4,273.5 573.4,264 578.6,255.5 583.1,252.2 587.1,251.5 613.8,251.4 629.5,251.4 640.6,251.4 649.2,251.4 656.2,251.4 662.2,251.4 667.4,251.4 672,251.4 672,251.4 667.4,251.4 662.2,251.4 656.2,251.4 649.2,251.4 640.6,251.4 629.5,251.4 613.8,251.5 587.1,297 583.1,303 578.6,307 573.4,316 567.4,327 560.4,347 551.8,372 540.7,384.4 525,392.9 498.3,393.3 494.3,393.5 489.8,393.7 484.6,393.9 478.6,394.1 471.6,394.3 463,394.6 451.9,394.7 436.2,394.8 409.5,396.8" fill="#000000" fill-opacity="0.15" stroke="none"/>
<polygon points="409.5,260.2 436.2,263 451.9,268.5 463,269.3 471.6,271.5 478.6,269.7 484.6,273.1 489.8,270.5 494.3,268.2 498.3,274.4 525,276.3 540.7,264.6 551.8,258.3 560.4,251.6 567.4,251.4 573.4,251.4 578.6,251.4 583.1,251.4 587.1,251.4 613.8,251.4 629.5,251.4 640.6,251.4 649.2,251.4 656.2,251.4 662.2,251.4 667.4,251.4 672,251.4 672,251.4 667.4,251.4 662.2,251.4 656.2,251.4 649.2,251.4 640.6,251.4 629.5,251.4 613.8,251.5 587.1,296.5 583.1,302 578.6,305.2 573.4,305.6 567.4,306 560.4,315 551.8,326 540.7,341 525,362.8 498.3,383.4 494.3,385.4 489.8,385 484.6,385.7 478.6,386.3 471.6,387 463,389.3 451.9,389.6 436.2,392 409.5,389" fill="#d2ffff" fill-opacity="0.33" stroke="none"/>
<line x1="396.3" y1="421.42" x2="690" y2="421.42" stroke="#777" stroke-width="0.8" stroke-dasharray="1.8,0.7"/>
<polyline points="409.5,263.7 436.2,261.5 451.9,267.6 463,265.4 471.6,267 478.6,267 484.6,267.2 489.8,269.5 494.3,270 498.3,270.5 525,274.4 540.7,265.9 551.8,276.3 560.4,270.8 567.4,265.7 573.4,261.4 578.6,257.6 583.1,254.3 587.1,251.6 613.8,251.4 629.5,251.4 640.6,251.4 649.2,251.4 656.2,251.4 662.2,251.4 667.4,251.4 672,251.4" fill="none" stroke="#ff5a1e" stroke-width="1.2" stroke-linejoin="round"/>
<polyline points="409.5,389 436.2,389 451.9,389 463,392.2 471.6,389.3 478.6,390 484.6,391.2 489.8,390.5 494.3,389.5 498.3,388.5 525,382.4 540.7,372.6 551.8,362.5 560.4,349 567.4,332.6 573.4,329 578.6,326.5 583.1,318 587.1,311.5 613.8,287.8 629.5,252.4 640.6,251.4 649.2,251.4 656.2,251.4 662.2,251.4 667.4,251.4 672,251.4" fill="none" stroke="#ff5a1e" stroke-width="1.2" stroke-linejoin="round"/>
<polyline points="409.5,294.4 436.2,303.5 451.9,306.2 463,304 471.6,307.5 478.6,308.8 484.6,311 489.8,314.3 494.3,307.7 498.3,307.7 525,308.1 540.7,306.7 551.8,297 560.4,280 567.4,273.5 573.4,264 578.6,255.5 583.1,252.2 587.1,251.5 613.8,251.4 629.5,251.4 640.6,251.4 649.2,251.4 656.2,251.4 662.2,251.4 667.4,251.4 672,251.4" fill="none" stroke="#000" stroke-width="1.1" stroke-linejoin="round"/>
<polyline points="409.5,396.8 436.2,394.8 451.9,394.7 463,394.6 471.6,394.3 478.6,394.1 484.6,393.9 489.8,393.7 494.3,393.5 498.3,393.3 525,392.9 540.7,384.4 551.8,372 560.4,347 567.4,327 573.4,316 578.6,307 583.1,303 587.1,297 613.8,251.5 629.5,251.4 640.6,251.4 649.2,251.4 656.2,251.4 662.2,251.4 667.4,251.4 672,251.4" fill="none" stroke="#000" stroke-width="1.1" stroke-linejoin="round"/>
<polyline points="409.5,326.8 436.2,327.4 451.9,328.5 463,329.4 471.6,330.5 478.6,331.5 484.6,332.2 489.8,332 494.3,331.5 498.3,331 525,328 540.7,321.5 551.8,314.6 560.4,310 567.4,302.5 573.4,295 578.6,289 583.1,285 587.1,282 613.8,262.5 629.5,251.5 640.6,251.4 649.2,251.4 656.2,251.4 662.2,251.4 667.4,251.4 672,251.4" fill="none" stroke="#ff5a1e" stroke-width="1.4" stroke-dasharray="1.4,2.2" stroke-linejoin="round"/>
<polyline points="409.5,345 436.2,348.5 451.9,351.1 463,351.8 471.6,352.4 478.6,353.7 484.6,355.9 489.8,355.9 494.3,355 498.3,354.5 525,352 540.7,345.5 551.8,330 560.4,313 567.4,299 573.4,289.5 578.6,284 583.1,278.5 587.1,274.5 613.8,251.5 629.5,251.4 640.6,251.4 649.2,251.4 656.2,251.4 662.2,251.4 667.4,251.4 672,251.4" fill="none" stroke="#000" stroke-width="1.6" stroke-linejoin="round"/>
<polyline points="409.5,327.2 436.2,329 451.9,330.5 463,331.3 471.6,331.5 478.6,331.6 484.6,331.6 489.8,330.8 494.3,330.2 498.3,328.7 525,314.5 540.7,305 551.8,294.5 560.4,285.5 567.4,279 573.4,274.5 578.6,270.5 583.1,266.5 587.1,263.5 613.8,251.5 629.5,251.4 640.6,251.4 649.2,251.4 656.2,251.4 662.2,251.4 667.4,251.4 672,251.4" fill="none" stroke="#0000ff" stroke-width="1.7" stroke-dasharray="9,2.1,1.6,2.1" stroke-linejoin="round"/>
<polyline points="409.5,260.2 436.2,263 451.9,268.5 463,269.3 471.6,271.5 478.6,269.7 484.6,273.1 489.8,270.5 494.3,268.2 498.3,274.4 525,276.3 540.7,264.6 551.8,258.3 560.4,251.6 567.4,251.4 573.4,251.4 578.6,251.4 583.1,251.4 587.1,251.4 613.8,251.4 629.5,251.4 640.6,251.4 649.2,251.4 656.2,251.4 662.2,251.4 667.4,251.4 672,251.4" fill="none" stroke="#0000ff" stroke-width="1.2" stroke-linejoin="round"/>
<polyline points="409.5,389 436.2,392 451.9,389.6 463,389.3 471.6,387 478.6,386.3 484.6,385.7 489.8,385 494.3,385.4 498.3,383.4 525,362.8 540.7,341 551.8,326 560.4,315 567.4,306 573.4,305.6 578.6,305.2 583.1,302 587.1,296.5 613.8,251.5 629.5,251.4 640.6,251.4 649.2,251.4 656.2,251.4 662.2,251.4 667.4,251.4 672,251.4" fill="none" stroke="#0000ff" stroke-width="1.2" stroke-linejoin="round"/>
</g>
<rect x="396.3" y="242.5" width="293.7" height="187.8" fill="none" stroke="#000" stroke-width="0.8"/>
<line x1="392.8" y1="242.5" x2="396.3" y2="242.5" stroke="#000" stroke-width="0.8"/>
<text x="380.2" y="246" class="s" font-size="10.2">50</text>
<rect x="373.19" y="243" width="6.8" height="0.9" fill="#333"/>
<line x1="392.8" y1="274.68" x2="396.3" y2="274.68" stroke="#000" stroke-width="0.8"/>
<text x="380.37" y="278.18" class="s" font-size="10.2">52</text>
<rect x="373.36" y="275" width="6.8" height="0.9" fill="#333"/>
<line x1="392.8" y1="306.86" x2="396.3" y2="306.86" stroke="#000" stroke-width="0.8"/>
<text x="379.97" y="310.36" class="s" font-size="10.2">54</text>
<rect x="372.96" y="307" width="6.8" height="0.9" fill="#333"/>
<line x1="392.8" y1="339.04" x2="396.3" y2="339.04" stroke="#000" stroke-width="0.8"/>
<text x="380.21" y="342.54" class="s" font-size="10.2">56</text>
<rect x="373.2" y="340" width="6.8" height="0.9" fill="#333"/>
<line x1="392.8" y1="371.22" x2="396.3" y2="371.22" stroke="#000" stroke-width="0.8"/>
<text x="380.31" y="374.72" class="s" font-size="10.2">58</text>
<rect x="373.3" y="372" width="6.8" height="0.9" fill="#333"/>
<line x1="392.8" y1="403.4" x2="396.3" y2="403.4" stroke="#000" stroke-width="0.8"/>
<text x="380.2" y="406.9" class="s" font-size="10.2">60</text>
<rect x="373.01" y="404" width="6.8" height="0.9" fill="#333"/>
<line x1="400.89" y1="430.3" x2="400.89" y2="432.5" stroke="#000" stroke-width="0.7"/>
<line x1="405.44" y1="430.3" x2="405.44" y2="432.5" stroke="#000" stroke-width="0.7"/>
<line x1="409.5" y1="430.3" x2="409.5" y2="433.8" stroke="#000" stroke-width="0.8"/>
<text transform="translate(400.08,443.7) scale(0.95,1)" class="s" font-size="10.2">10</text>
<rect x="410.49" y="437" width="4.9" height="0.8" fill="#333"/>
<text x="415.47" y="440.1" class="s" font-size="7.2">2</text>
<line x1="436.23" y1="430.3" x2="436.23" y2="432.5" stroke="#000" stroke-width="0.7"/>
<line x1="451.87" y1="430.3" x2="451.87" y2="432.5" stroke="#000" stroke-width="0.7"/>
<line x1="462.96" y1="430.3" x2="462.96" y2="432.5" stroke="#000" stroke-width="0.7"/>
<line x1="471.57" y1="430.3" x2="471.57" y2="432.5" stroke="#000" stroke-width="0.7"/>
<line x1="478.6" y1="430.3" x2="478.6" y2="432.5" stroke="#000" stroke-width="0.7"/>
<line x1="484.54" y1="430.3" x2="484.54" y2="432.5" stroke="#000" stroke-width="0.7"/>
<line x1="489.69" y1="430.3" x2="489.69" y2="432.5" stroke="#000" stroke-width="0.7"/>
<line x1="494.24" y1="430.3" x2="494.24" y2="432.5" stroke="#000" stroke-width="0.7"/>
<line x1="498.3" y1="430.3" x2="498.3" y2="433.8" stroke="#000" stroke-width="0.8"/>
<text transform="translate(489.05,443.7) scale(0.95,1)" class="s" font-size="10.2">10</text>
<rect x="499.47" y="437" width="4.9" height="0.8" fill="#333"/>
<text x="504.13" y="440.1" class="s" font-size="7.2">1</text>
<line x1="525.03" y1="430.3" x2="525.03" y2="432.5" stroke="#000" stroke-width="0.7"/>
<line x1="540.67" y1="430.3" x2="540.67" y2="432.5" stroke="#000" stroke-width="0.7"/>
<line x1="551.76" y1="430.3" x2="551.76" y2="432.5" stroke="#000" stroke-width="0.7"/>
<line x1="560.37" y1="430.3" x2="560.37" y2="432.5" stroke="#000" stroke-width="0.7"/>
<line x1="567.4" y1="430.3" x2="567.4" y2="432.5" stroke="#000" stroke-width="0.7"/>
<line x1="573.34" y1="430.3" x2="573.34" y2="432.5" stroke="#000" stroke-width="0.7"/>
<line x1="578.49" y1="430.3" x2="578.49" y2="432.5" stroke="#000" stroke-width="0.7"/>
<line x1="583.04" y1="430.3" x2="583.04" y2="432.5" stroke="#000" stroke-width="0.7"/>
<line x1="587.1" y1="430.3" x2="587.1" y2="433.8" stroke="#000" stroke-width="0.8"/>
<text transform="translate(580.39,443.7) scale(0.95,1)" class="s" font-size="10.2">10</text>
<text x="590.23" y="440.1" class="s" font-size="7.2">0</text>
<line x1="613.83" y1="430.3" x2="613.83" y2="432.5" stroke="#000" stroke-width="0.7"/>
<line x1="629.47" y1="430.3" x2="629.47" y2="432.5" stroke="#000" stroke-width="0.7"/>
<line x1="640.56" y1="430.3" x2="640.56" y2="432.5" stroke="#000" stroke-width="0.7"/>
<line x1="649.17" y1="430.3" x2="649.17" y2="432.5" stroke="#000" stroke-width="0.7"/>
<line x1="656.2" y1="430.3" x2="656.2" y2="432.5" stroke="#000" stroke-width="0.7"/>
<line x1="662.14" y1="430.3" x2="662.14" y2="432.5" stroke="#000" stroke-width="0.7"/>
<line x1="667.29" y1="430.3" x2="667.29" y2="432.5" stroke="#000" stroke-width="0.7"/>
<line x1="671.84" y1="430.3" x2="671.84" y2="432.5" stroke="#000" stroke-width="0.7"/>
<line x1="675.9" y1="430.3" x2="675.9" y2="433.8" stroke="#000" stroke-width="0.8"/>
<text transform="translate(669.45,443.7) scale(0.95,1)" class="s" font-size="10.2">10</text>
<text x="678.93" y="440.1" class="s" font-size="7.2">1</text>
<text transform="translate(496.57,457.2) scale(1.0306,1)" class="a" font-size="12.4">param,</text>
<text transform="translate(542.06,457.2) scale(0.9967,1)" class="a" font-size="14.0">N</text>
<rect x="553.1" y="452" width="9.4" height="1" fill="#2a2a2a"/>
<rect x="553.1" y="455" width="9.4" height="1" fill="#2a2a2a"/>
<text transform="translate(563.62,457.2) scale(0.9317,1)" class="a" font-size="13.3">400</text>
<text transform="translate(368.1,417.97) rotate(-90)" class="a" font-size="14.2">O</text>
<text transform="translate(368.1,407.87) rotate(-90) scale(1.0404,1)" class="a" font-size="12.9">ut-of-sample performance</text>
<rect x="582" y="361.3" width="97.8" height="62.4" rx="2" fill="#fff" fill-opacity="0.8" stroke="#d8d8d8" stroke-width="0.8"/>
<line x1="585.7" y1="369.3" x2="606.9" y2="369.3" stroke="#ff5a1e" stroke-width="1.4" stroke-dasharray="1.4,2.2"/>
<text transform="translate(615.21,372.9) scale(0.9398,1)" class="b" font-size="10.2">KNNROBUST</text>
<line x1="585.7" y1="385" x2="606.9" y2="385" stroke="#000" stroke-width="1.6"/>
<text transform="translate(615.18,388.6) scale(0.9837,1)" class="b" font-size="10.2">DROTRIMM</text>
<line x1="585.7" y1="399.8" x2="606.9" y2="399.8" stroke="#0000ff" stroke-width="1.7" stroke-dasharray="9,2.1,1.6,2.1"/>
<text transform="translate(615.2,403.4) scale(0.9563,1)" class="b" font-size="10.2">KNNDRO</text>
<line x1="585.7" y1="415.4" x2="606.9" y2="415.4" stroke="#888" stroke-width="0.8" stroke-dasharray="1.6,0.7"/>
<text x="615.3" y="419.1" class="s" font-style="italic" font-size="12">J<tspan font-size="8" dx="0.3" dy="-2.2">*</tspan></text>
</g>
</svg>
</body></html>
